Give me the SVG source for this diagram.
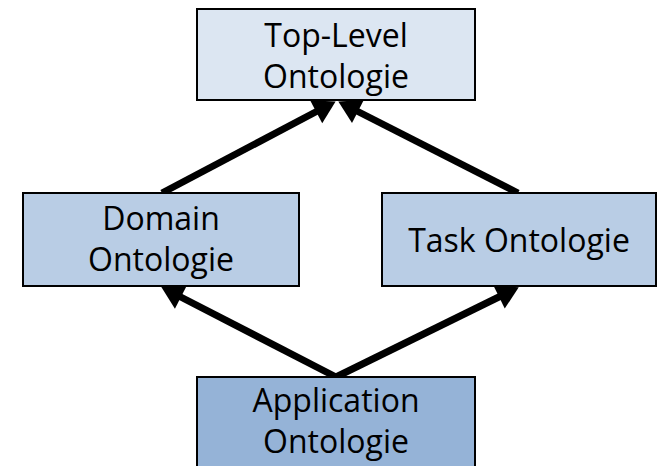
<svg xmlns="http://www.w3.org/2000/svg" width="657" height="466" viewBox="0 0 657 466">
<style>
.box{stroke:#000;stroke-width:2}
.t{font-family:"Open Sans","Liberation Sans",sans-serif;font-size:32px;fill:#000;text-anchor:middle}
.c{stroke:#000;stroke-width:7;fill:none;marker-end:url(#ah)}
</style>
<defs>
<marker id="ah" markerUnits="userSpaceOnUse" markerWidth="24" markerHeight="26" refX="10" refY="13" orient="auto" overflow="visible">
<path d="M0,0 L22,13 L0,26 z" fill="#000"/>
</marker>
</defs>
<rect width="657" height="466" fill="#fff"/>
<g id="connectors">
<path class="c" d="M162,193 L325,107"/>
<path class="c" d="M518,193 L349,107"/>
<path class="c" d="M336,377 L172,292.5"/>
<path class="c" d="M336,377 L508,292.5"/>
</g>
<g id="top">
<rect class="box" x="197" y="9" width="278" height="91" fill="#DCE6F2"/>
<text class="t" x="336" y="47">Top-Level</text>
<text class="t" x="336" y="88">Ontologie</text>
</g>
<g id="domain">
<rect class="box" x="23" y="193" width="276" height="93" fill="#B9CDE5"/>
<text class="t" x="161" y="230">Domain</text>
<text class="t" x="161" y="271">Ontologie</text>
</g>
<g id="task">
<rect class="box" x="382" y="193" width="274" height="93" fill="#B9CDE5"/>
<text class="t" x="519" y="252">Task Ontologie</text>
</g>
<g id="application">
<rect class="box" x="197" y="377" width="278" height="92" fill="#95B3D7"/>
<text class="t" x="336" y="412">Application</text>
<text class="t" x="336" y="453">Ontologie</text>
</g>
</svg>
